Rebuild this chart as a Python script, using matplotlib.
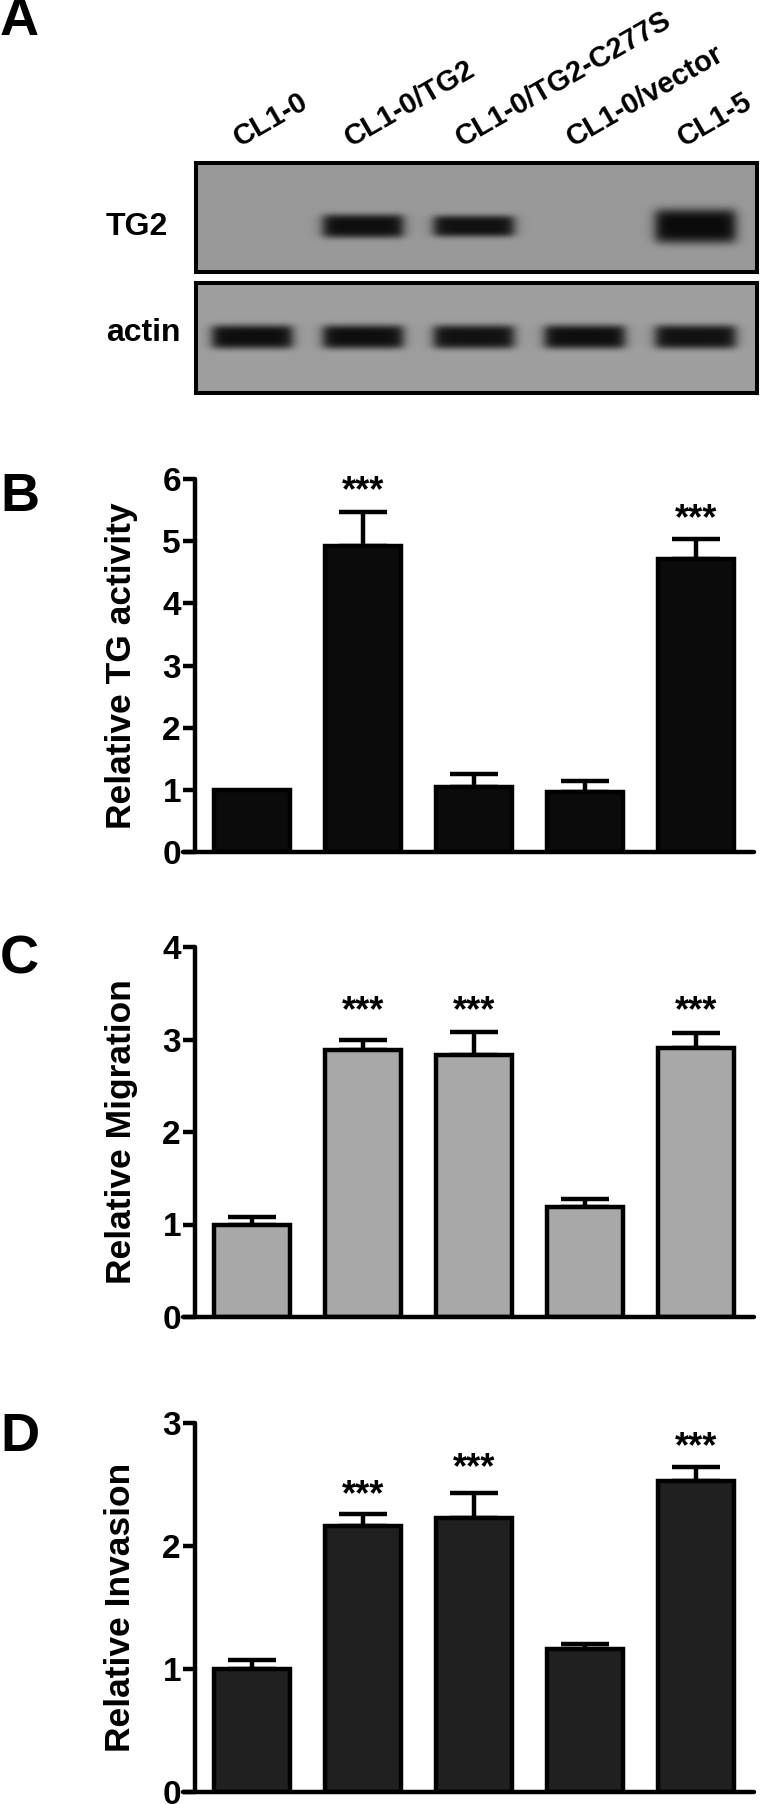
import numpy as np
import matplotlib
matplotlib.use("Agg")
import matplotlib.pyplot as plt
from matplotlib.transforms import blended_transform_factory

# ---------------- data ----------------
categories = ["CL1-0", "CL1-0/TG2", "CL1-0/TG2-C277S", "CL1-0/vector", "CL1-5"]

tg_activity = [1.00, 4.92, 1.05, 0.96, 4.71]
tg_activity_err = [0.00, 0.55, 0.21, 0.19, 0.32]
tg_stars = ["", "***", "", "", "***"]
tg_star_y = [0, 5.98, 0, 0, 5.53]

migration = [1.00, 2.89, 2.83, 1.19, 2.91]
migration_err = [0.08, 0.10, 0.25, 0.09, 0.16]
mig_stars = ["", "***", "***", "", "***"]
mig_star_y = [0, 3.42, 3.42, 0, 3.42]

invasion = [1.00, 2.16, 2.23, 1.16, 2.53]
invasion_err = [0.07, 0.10, 0.20, 0.04, 0.11]
inv_stars = ["", "***", "***", "", "***"]
inv_star_y = [0, 2.50, 2.72, 0, 2.89]

# blot band intensities (0 = no band, 1 = saturated)
tg2_band = [0.00, 0.97, 0.95, 0.00, 1.00]
tg2_band_thick = [0.10, 0.11, 0.10, 0.10, 0.16]
actin_band = [0.97, 0.97, 0.95, 0.97, 0.95]
actin_band_thick = [0.11, 0.11, 0.11, 0.11, 0.11]

# ---------------- layout helpers ----------------
W, H = 769, 1804
fig = plt.figure(figsize=(W / 100, H / 100), dpi=100)

BOLD = "bold"
FONT = ["Liberation Sans", "DejaVu Sans"]

X0_PX, STEP_PX = 252.0, 111.0     # pixel centre of first bar, spacing


def px2data(px):
    return (px - X0_PX) / STEP_PX


def add_px_axes(left, top, right, bottom):
    return fig.add_axes([left / W, 1 - bottom / H, (right - left) / W, (bottom - top) / H])


LW = 3.2  # axis/bar line width in points

# ---------------- panel A: blot ----------------
def blot(top, bottom, intens, thick, band_center_frac, bg):
    ax = add_px_axes(196, top, 757, bottom)
    x0, x1 = px2data(196), px2data(757)
    ncol, nrow = 561, int(bottom - top)
    xs = np.linspace(x0, x1, ncol)
    ys = np.linspace(0, 1, nrow)[:, None]
    img = np.full((nrow, ncol), bg)
    for i, (v, t) in enumerate(zip(intens, thick)):
        hx = 1 / (1 + np.exp(-(xs - (i - 0.36)) / 0.03)) * 1 / (1 + np.exp((xs - (i + 0.36)) / 0.03))
        vy = np.exp(-((ys - band_center_frac) / t) ** 4)
        img = img - (bg - 0.04) * v * hx[None, :] * vy
    ax.imshow(img, cmap="gray", vmin=0, vmax=1, aspect="auto",
              extent=(x0, x1, 1, 0), interpolation="bilinear")
    ax.set_xlim(x0, x1)
    ax.set_ylim(1, 0)
    ax.set_xticks([])
    ax.set_yticks([])
    for s in ax.spines.values():
        s.set_linewidth(2.9)
        s.set_color("black")
    return ax


ax_tg2 = blot(163, 272, tg2_band, tg2_band_thick, 0.58, 0.60)
ax_act = blot(283, 393, actin_band, actin_band_thick, 0.49, 0.62)

tr = blended_transform_factory(ax_tg2.transData, ax_tg2.transAxes)
for i, lab in enumerate(categories):
    ax_tg2.text(i - 0.08, 1 + 11 / 109, lab, transform=tr, rotation=30,
                rotation_mode="anchor", ha="left", va="bottom",
                fontsize=21, fontweight=BOLD, family=FONT)

fig.text(106 / W, 1 - 227 / H, "TG2", ha="left", va="center",
         fontsize=23, fontweight=BOLD, family=FONT)
fig.text(106 / W, 1 - 333 / H, "actin", ha="left", va="center",
         fontsize=23, fontweight=BOLD, family=FONT)

# ---------------- bar panels ----------------
def bar_panel(top, bottom, ymax, vals, errs, stars, star_y, fill, ylabel):
    ax = add_px_axes(183, top, 754, bottom)
    x = np.arange(len(vals))
    for xi, v, e in zip(x, vals, errs):
        if e > 0:
            ax.errorbar([xi], [v], yerr=[[0], [e]], fmt="none", ecolor="black",
                        elinewidth=LW, capsize=17, capthick=LW, zorder=1)
    ax.bar(x, vals, width=0.68, color=fill, edgecolor="black",
           linewidth=LW, zorder=2)
    ax.set_xlim(px2data(183), px2data(754))
    ax.set_ylim(0, ymax)
    ax.spines["top"].set_visible(False)
    ax.spines["right"].set_visible(False)
    ax.spines["left"].set_position(("data", px2data(195)))
    for k in ("left", "bottom"):
        ax.spines[k].set_linewidth(LW)
        ax.spines[k].set_capstyle("round")
    ax.set_xticks([])
    ax.set_yticks(range(0, ymax + 1))
    ax.tick_params(axis="y", direction="out", length=8.6, width=LW, pad=1.5,
                   labelsize=24)
    for t in ax.get_yticklabels():
        t.set_fontweight(BOLD)
        t.set_family(FONT)
    for xi, s, sy in zip(x, stars, star_y):
        if s:
            ax.annotate(s, (xi, sy), xytext=(0, -15), textcoords="offset points",
                        ha="center", va="baseline", fontsize=26,
                        fontweight=BOLD, family=FONT, annotation_clip=False)
    ax.text((121 - 183) / 571, 0.5, ylabel, transform=ax.transAxes,
            rotation=90, ha="center", va="center", fontsize=25.5,
            fontweight=BOLD, family=FONT)
    ax.patch.set_visible(False)
    return ax


bar_panel(479, 852, 6, tg_activity, tg_activity_err, tg_stars, tg_star_y,
          "#0b0b0b", "Relative TG activity")
bar_panel(947, 1317, 4, migration, migration_err, mig_stars, mig_star_y,
          "#a8a8a8", "Relative Migration")
bar_panel(1423, 1792, 3, invasion, invasion_err, inv_stars, inv_star_y,
          "#202020", "Relative Invasion")

# panel letters
for lab, yc in [("A", 21), ("B", 497), ("C", 960), ("D", 1437)]:
    fig.text(0 / W, 1 - yc / H, lab, ha="left", va="center",
             fontsize=39, fontweight=BOLD, family=FONT)

fig.savefig("out.png", dpi=100)
